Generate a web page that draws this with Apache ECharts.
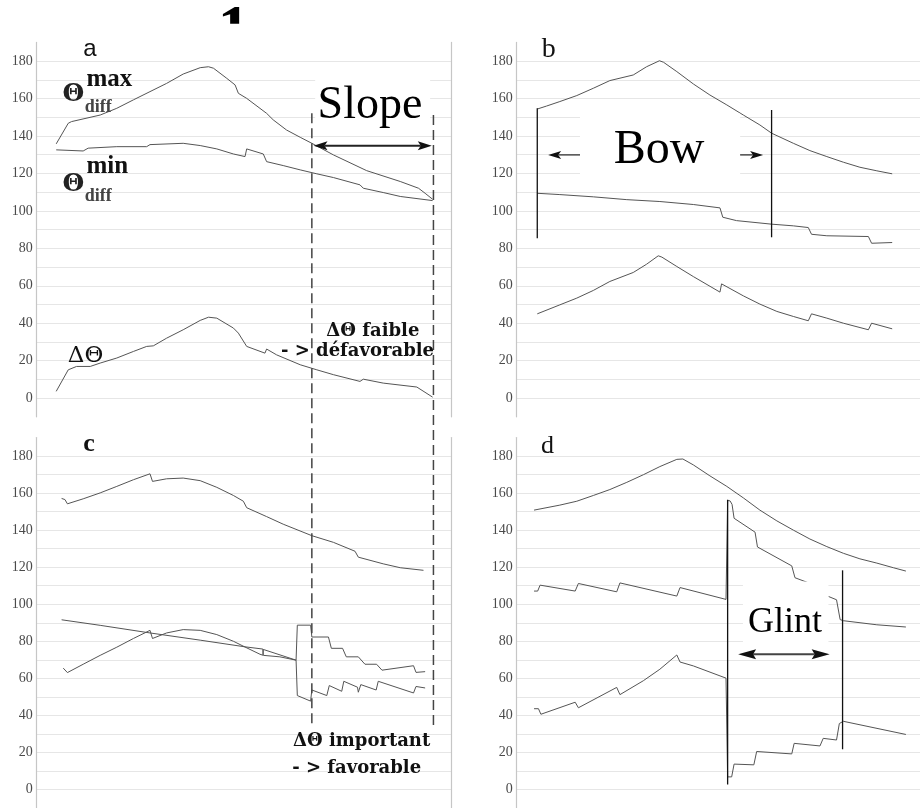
<!DOCTYPE html>
<html><head><meta charset="utf-8">
<script src="https://cdn.jsdelivr.net/npm/echarts@6/dist/echarts.min.js"></script>
<style>html,body{margin:0;padding:0;background:#fff}#c{width:920px;height:808px}</style>
</head><body><div id="c"></div>
<script>
// ---------- data (x: relative position 0-100 along each panel, y: angle in degrees) ----------
const yTickLabels = [0, 20, 40, 60, 80, 100, 120, 140, 160, 180];
const panelLetters = ['a', 'b', 'c', 'd'];

const aMax = [[4.7,135.8],[7.6,146.8],[8.4,147.7],[15.3,151.2],[19.3,154.8],[23.3,159.3],[27.3,163.7],[31.3,168.1],[35.3,173.1],[39.4,176.5],[41.4,177.0],[42.6,176.2],[45.8,170.8],[47.8,167.3],[48.6,162.8],[50.6,160.1],[55.4,152.1],[57.0,148.6],[60.2,143.2],[63.5,139.3],[66.3,136.1],[71.5,129.9],[79.5,121.5],[87.6,115.7],[92.0,112.1],[93.6,109.4],[95.4,106.2]];
const aMin = [[4.7,132.6],[11.2,132.0],[12.4,133.5],[19.3,134.3],[26.5,134.3],[27.3,135.4],[35.3,136.1],[39.4,134.9],[43.4,133.1],[47.4,130.4],[50.2,129.0],[50.6,133.1],[54.6,130.4],[55.4,126.3],[59.4,124.2],[63.5,121.9],[67.5,119.8],[71.5,117.8],[77.9,113.9],[78.7,112.1],[83.5,109.8],[87.6,107.7],[95.4,105.5]];
const aDelta = [[4.7,3.6],[7.6,15.1],[9.6,16.9],[12.9,16.9],[15.3,18.7],[19.3,21.4],[23.3,24.9],[26.5,27.6],[28.1,27.9],[31.3,32.0],[35.3,36.5],[39.4,41.5],[41.4,43.2],[43.4,42.7],[47.4,37.4],[48.6,34.7],[50.6,27.6],[55.0,24.0],[55.4,26.2],[57.8,23.1],[63.5,17.8],[67.5,15.1],[71.5,12.5],[77.9,8.9],[78.7,10.1],[83.5,8.0],[91.6,5.9],[95.4,0.5]];

const bMax = [[5.1,154.4],[7.4,156.0],[10.7,158.4],[14.9,161.6],[19.0,165.5],[23.1,169.6],[28.9,172.6],[32.2,177.0],[35.4,180.2],[36.4,179.4],[39.7,174.4],[43.8,167.8],[47.9,161.9],[52.1,156.6],[56.2,151.2],[60.3,145.9],[63.2,141.5],[68.6,136.1],[72.7,132.2],[76.9,129.0],[81.0,126.0],[85.1,123.3],[89.3,121.4],[93.1,119.8]];
const bMin = [[5.1,109.4],[10.7,108.7],[19.0,107.5],[27.3,106.0],[35.5,105.0],[43.8,103.4],[50.4,101.6],[51.1,96.6],[54.5,94.8],[63.2,92.9],[68.6,92.0],[72.3,91.1],[73.1,87.5],[76.9,86.7],[87.2,86.3],[88.0,82.7],[93.1,83.1]];
const bDelta = [[5.1,45.0],[10.7,49.8],[14.9,53.4],[19.0,57.5],[23.1,62.3],[28.9,67.1],[32.2,71.5],[35.1,76.0],[36.0,75.3],[39.7,70.3],[43.8,64.9],[50.4,56.6],[50.8,61.0],[56.2,54.6],[60.3,50.2],[64.5,46.3],[68.6,43.6],[72.3,41.3],[73.1,45.0],[76.9,42.7],[81.0,40.0],[87.2,36.5],[88.0,40.0],[93.1,37.0]];

const cMax = [[6.0,157.1],[6.8,156.5],[7.4,154.2],[11.2,156.9],[15.3,160.1],[19.3,163.6],[23.3,167.2],[27.3,170.4],[27.9,166.3],[31.3,167.7],[35.3,168.1],[39.4,166.7],[43.4,163.1],[47.4,158.7],[49.8,155.6],[50.6,152.1],[55.4,147.3],[59.4,143.2],[66.3,137.0],[71.5,133.4],[76.7,128.6],[77.5,125.4],[83.5,121.8],[87.6,119.7],[93.2,118.3]];
const cMin = [[6.0,91.6],[15.3,88.6],[27.3,84.5],[39.4,80.6],[50.2,77.0],[54.5,75.8],[54.55,72.6],[54.6,75.6],[62.5,69.8],[62.8,88.7],[66.0,88.7],[66.3,82.3],[70.3,82.3],[71.0,76.2],[73.7,76.2],[74.6,71.6],[77.5,71.6],[79.1,67.6],[81.9,67.6],[83.2,64.4],[90.8,66.8],[91.4,63.2],[93.6,63.6]];
const cDelta = [[6.4,65.5],[6.8,64.8],[7.4,63.1],[11.2,67.6],[15.3,72.4],[19.3,76.8],[23.3,81.5],[27.3,85.9],[27.9,81.5],[31.3,84.5],[35.3,86.3],[39.4,85.9],[43.4,83.6],[47.4,80.0],[50.2,76.9],[53.8,73.0],[54.6,72.4],[58.6,71.6],[62.5,69.8],[62.8,50.7],[66.0,47.7],[66.3,53.7],[69.9,50.7],[70.5,56.1],[73.5,53.0],[74.0,58.4],[77.3,55.2],[77.5,52.5],[78.1,56.6],[81.8,53.7],[82.3,58.4],[90.8,52.1],[91.4,55.6],[93.6,54.8]];

const dMax = [[4.3,150.8],[10.7,153.5],[14.9,155.6],[19.0,158.7],[23.1,161.9],[27.3,165.8],[31.4,169.9],[35.5,174.3],[39.7,178.2],[41.2,178.4],[43.8,175.2],[47.9,169.3],[52.1,163.6],[56.2,157.4],[60.3,150.8],[64.5,145.0],[68.6,140.0],[72.7,135.2],[76.9,131.1],[81.0,127.5],[85.1,124.5],[89.3,122.2],[93.4,119.7],[96.5,117.9]];
const dMin = [[4.3,107.1],[5.2,107.1],[5.8,110.3],[14.5,107.1],[15.3,111.2],[24.8,106.7],[25.6,111.5],[39.7,104.4],[40.5,109.0],[51.9,102.6],[52.3,156.0],[52.9,155.8],[53.4,153.9],[53.9,146.4],[59.1,138.9],[59.7,130.9],[68.2,120.7],[69.0,114.3],[72.3,111.6],[74.5,null],[77.3,104.2],[79.3,102.4],[80.2,91.7],[81.0,91.1],[89.3,88.9],[96.5,87.7]];
const dDelta = [[4.3,43.6],[5.4,43.6],[6.0,40.6],[14.5,47.1],[15.3,44.1],[24.8,55.1],[25.6,51.2],[31.4,58.7],[35.5,64.9],[39.7,72.6],[40.5,68.8],[43.8,66.7],[51.9,60.1],[52.3,6.8],[53.3,6.8],[53.9,13.7],[58.8,13.3],[59.5,20.5],[68.2,19.2],[68.8,24.9],[75.2,23.5],[76.0,27.6],[79.3,26.7],[80.0,35.6],[81.0,36.8],[96.5,29.7]];

const seriesByPanel = [[aMax, aMin, aDelta], [bMax, bMin, bDelta], [cMax, cMin, cDelta], [dMax, dMin, dDelta]];

// annotation values (panel index, x, y in data units)
const dashedX = [66.3, 95.6];          // vertical dashed lines spanning a -> c
const dashedTopY = [152.1, 151.2];     // in panel a
const dashedBottomY = 33.8;            // in panel c
const slopeArrow = [0, 66.7, 95.2, 134.8];   // panel, x0, x1, y
const bowLines = [[1, 5.1, 154.8, 85.4], [1, 63.2, 153.9, 85.9]];
const bowArrows = [[1, 15.7, 7.8, 129.9], [1, 55.4, 61.1, 129.9]]; // from, to (head at 'to')
const glintLines = [[3, 52.3, 156.4, 2.7], [3, 80.8, 118.3, 21.7]];
const glintArrow = [3, 54.9, 77.6, 73.0];
const maskBoxes = [[0, 67.1, 94.8, 177.5, 145.0], [1, 15.7, 55.4, 152, 118], [3, 56.1, 77.3, 112.3, 75.4], [0, 42.0, 51.0, 200, 181.5]];

// ---------- chart ----------
const chart = echarts.init(document.getElementById('c'), null, {renderer: 'canvas'});
const grids = [
  {left: 36.7, top: 42.4, width: 415, height: 374.4},
  {left: 516.7, top: 42.4, width: 403.3, height: 374.4},
  {left: 36.7, top: 437.5, width: 415, height: 374.4},
  {left: 516.7, top: 437.5, width: 403.3, height: 374.4}
];
const AXIS_COLOR = '#c6c6c6';
function leftAxis(i) {
  return {
    gridIndex: i, type: 'value', min: -10, max: 190, interval: 10, position: 'left',
    axisLine: {show: true, onZero: false, lineStyle: {color: AXIS_COLOR, width: 1.2}},
    axisTick: {show: false},
    axisLabel: {
      formatter: v => yTickLabels.includes(v) ? String(v) : '',
      fontFamily: 'Liberation Serif', fontSize: 14, color: '#4a4a4a', margin: 4
    },
    splitLine: {show: true, showMinLine: false, showMaxLine: false, lineStyle: {color: '#e6e6e6', width: 1}}
  };
}
function rightAxis(i) {
  return {
    gridIndex: i, type: 'value', min: -10, max: 190, interval: 10, position: 'right',
    axisLine: {show: true, onZero: false, lineStyle: {color: AXIS_COLOR, width: 1.2}},
    axisTick: {show: false}, axisLabel: {show: false}, splitLine: {show: false}
  };
}
const option = {
  animation: false,
  backgroundColor: '#ffffff',
  textStyle: {fontFamily: 'Liberation Serif'},
  grid: grids,
  xAxis: grids.map((g, i) => ({gridIndex: i, type: 'value', min: 0, max: 100, show: false})),
  yAxis: [...grids.map((g, i) => leftAxis(i)), rightAxis(0), rightAxis(2)],
  series: seriesByPanel.flatMap((arr, i) => arr.map(d => ({
    type: 'line', xAxisIndex: i, yAxisIndex: i, data: d, showSymbol: false, symbol: 'none',
    silent: true, connectNulls: false,
    lineStyle: {color: '#555', width: 1}
  })))
};
chart.setOption(option);

const P = (g, x, y) => chart.convertToPixel({xAxisIndex: g, yAxisIndex: g}, [x, y]);
const els = [];

maskBoxes.forEach(([g, x0, x1, y0, y1]) => {
  const a = P(g, x0, y0), b = P(g, x1, y1);
  els.push({type: 'rect', z: 50, shape: {x: a[0], y: a[1], width: b[0] - a[0], height: b[1] - a[1]}, style: {fill: '#fff'}});
});

dashedX.forEach((x, k) => {
  const a = P(0, x, dashedTopY[k]), b = P(2, x, dashedBottomY);
  els.push({type: 'line', z: 60, shape: {x1: a[0], y1: a[1], x2: b[0], y2: b[1]}, style: {stroke: '#444', lineWidth: 1.5, lineDash: [10, 5]}});
});

[...bowLines, ...glintLines].forEach(([g, x, y0, y1]) => {
  const a = P(g, x, y0), b = P(g, x, y1);
  els.push({type: 'line', z: 60, shape: {x1: a[0], y1: a[1], x2: b[0], y2: b[1]}, style: {stroke: '#111', lineWidth: 1.3}});
});

function head(tip, dir, len, wid) {
  return {type: 'polygon', z: 62, shape: {points: [[tip[0], tip[1]], [tip[0] - dir * len, tip[1] - wid / 2], [tip[0] - dir * (len - 3), tip[1]], [tip[0] - dir * len, tip[1] + wid / 2]]}, style: {fill: '#111'}};
}
function hArrow(g, x0, x1, y, both, len, wid, lw, color) {
  const a = P(g, x0, y), b = P(g, x1, y);
  const dir = b[0] > a[0] ? 1 : -1;
  els.push({type: 'line', z: 61, shape: {x1: a[0], y1: a[1], x2: b[0] - dir * (len - 3), y2: b[1]}, style: {stroke: color, lineWidth: lw}});
  els.push(head(b, dir, len, wid));
  if (both) {
    els[els.length - 2].shape.x1 = a[0] + dir * (len - 3);
    els.push(head(a, -dir, len, wid));
  }
}
hArrow(slopeArrow[0], slopeArrow[1], slopeArrow[2], slopeArrow[3], true, 14, 9, 2, '#222');
bowArrows.forEach(([g, x0, x1, y]) => hArrow(g, x0, x1, y, false, 13, 8, 1.2, '#222'));
hArrow(glintArrow[0], glintArrow[1], glintArrow[2], glintArrow[3], true, 18, 10, 2, '#444');

// texts: panel, x, baseline y, text, font size, font, weight, color, align
const SERIF = '"Liberation Serif", serif';
const WIDE = '"DejaVu Serif", serif';
const texts = [
  [0, 11.2, 182.2, 'a', 24, '"Liberation Sans", sans-serif', '', '#111', 'left'],
  [1, 6.2, 181.5, 'b', 28, SERIF, '', '#111', 'left'],
  [2, 11.2, 181.6, 'c', 26, SERIF, 'bold', '#111', 'left'],
  [3, 6.0, 180.7, 'd', 26, SERIF, '', '#111', 'left'],
  [0, 43.6, 184.2, '1', 64, SERIF, 'bold', '#000', 'left'],
  [0, 6.2, 158.0, 'Θ', 25, WIDE, 'bold', '#222', 'left'],
  [0, 12.0, 166.0, 'max', 25, SERIF, 'bold', '#111', 'left'],
  [0, 11.6, 152.3, 'diff', 18, SERIF, 'bold', '#444', 'left'],
  [0, 6.2, 110.0, 'Θ', 25, WIDE, 'bold', '#222', 'left'],
  [0, 12.0, 119.2, 'min', 25, SERIF, 'bold', '#111', 'left'],
  [0, 11.6, 104.9, 'diff', 18, SERIF, 'bold', '#444', 'left'],
  [0, 7.5, 18.75, 'ΔΘ', 23, WIDE, '', '#111', 'left'],
  [0, 81.0, 32.8, 'ΔΘ faible', 18, WIDE, 'bold', '#111', 'center'],
  [0, 77.3, 22.1, '- > défavorable', 18, WIDE, 'bold', '#111', 'center'],
  [0, 80.3, 148.2, 'Slope', 46, SERIF, '', '#000', 'center'],
  [1, 35.3, 124.1, 'Bow', 48, SERIF, '', '#000', 'center'],
  [3, 66.5, 83.7, 'Glint', 36, SERIF, '', '#000', 'center'],
  [2, 78.3, 23.1, 'ΔΘ important', 18, WIDE, 'bold', '#111', 'center'],
  [2, 77.1, 8.3, '- > favorable', 18, WIDE, 'bold', '#111', 'center']
];
texts.forEach(([g, x, y, t, size, fam, weight, color, align]) => {
  const p = P(g, x, y);
  const isOne = t === '1';
  els.push({
    type: 'text', z: isOne ? 40 : 70,
    x: p[0], y: p[1] - 0.32 * size,
    style: {
      text: t, font: (weight ? weight + ' ' : '') + size + 'px ' + fam, fill: color,
      align: align, textAlign: align, verticalAlign: 'middle', textVerticalAlign: 'middle'
    }
  });
});

chart.setOption({graphic: {elements: els}});
</script>
</body></html>
